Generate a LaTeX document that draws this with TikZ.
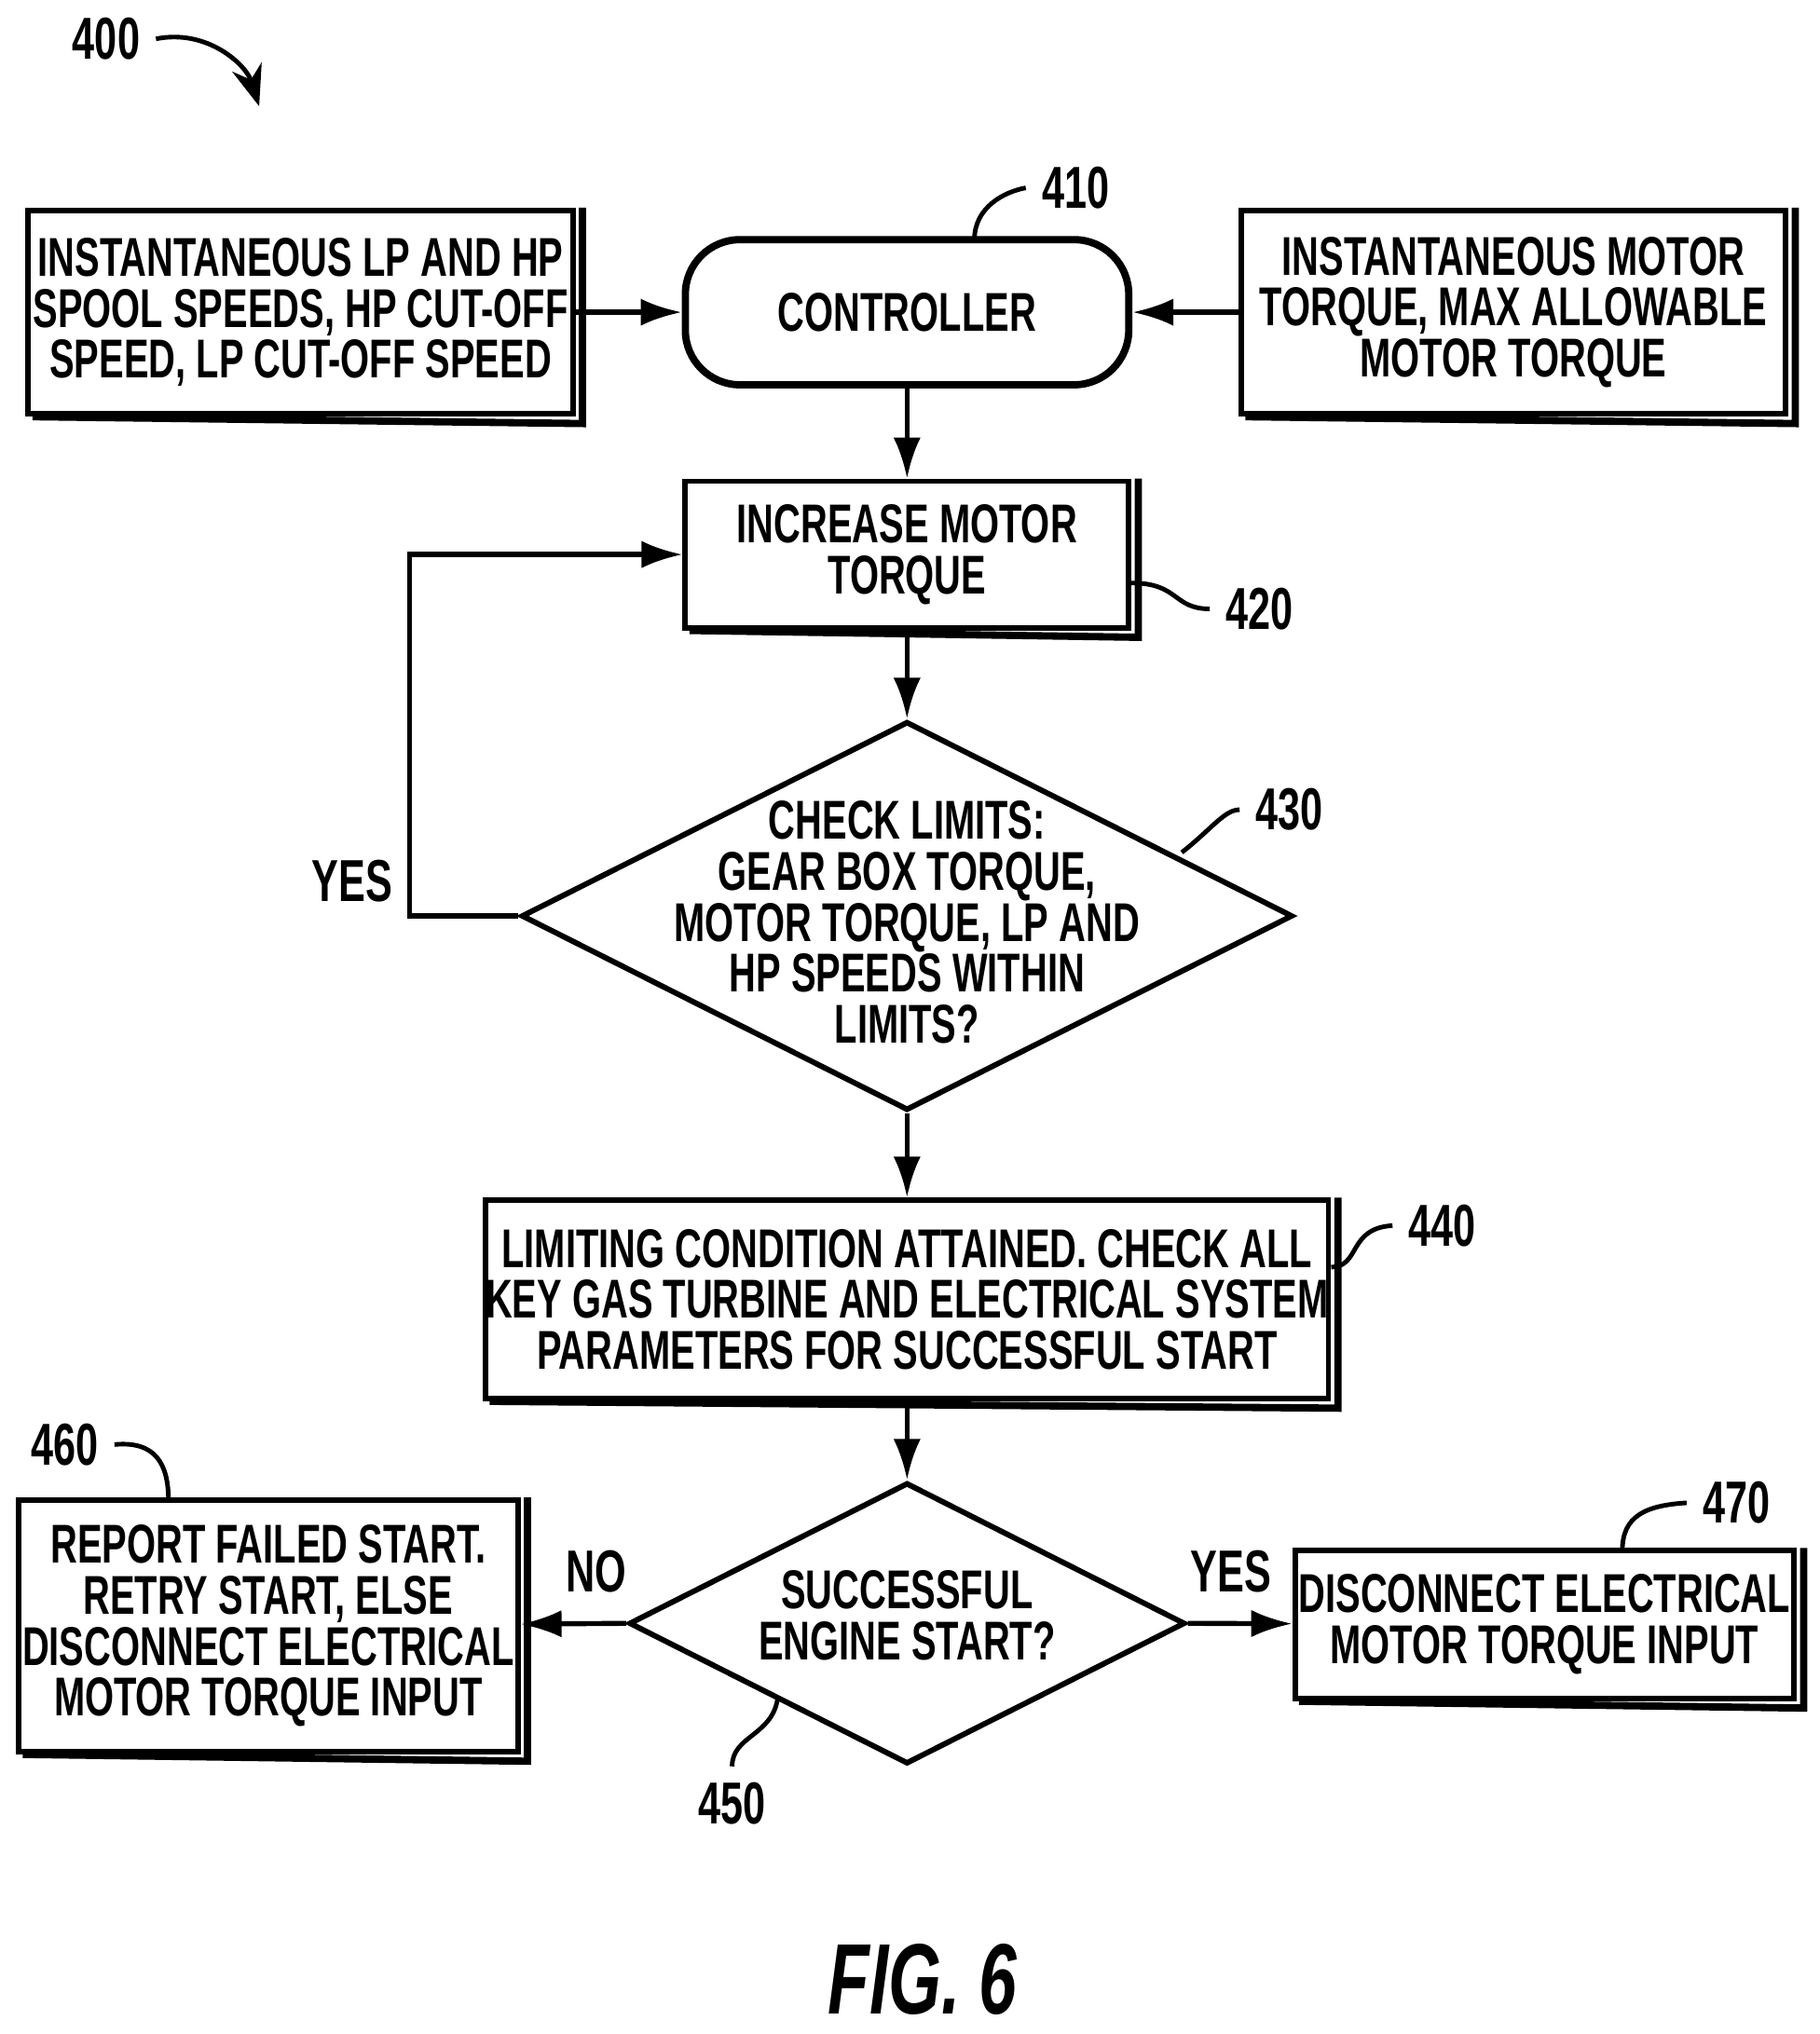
\documentclass[tikz,border=0pt]{standalone}
\usepackage{fontspec}
\setmainfont{Liberation Sans}[FakeStretch=0.68]
\usetikzlibrary{shapes.geometric,arrows.meta}
\begin{document}
\begin{tikzpicture}[x=0.01cm,y=-0.01cm,
  txt/.style={font=\fontsize{12}{11.2}\selectfont\bfseries,align=center},
  box/.style={txt,draw,line width=1.2pt,inner sep=0pt,
    append after command={\pgfextra{\draw[line width=1.6pt] ([xshift=1.5pt]\tikzlastnode.south west)--([xshift=1.5pt,yshift=-1.5pt]\tikzlastnode.south east)--([xshift=1.5pt]\tikzlastnode.north east);}}},
  dia/.style={draw,diamond,line width=1.2pt,inner sep=0pt},
  arr/.style={line width=1.1pt,-{Latex[length=9pt,width=6pt]}},
  lead/.style={line width=1pt},
  lab/.style={font=\fontsize{13}{13}\selectfont\bfseries}]
\useasboundingbox (0,0) rectangle (1404,1570);
\node[box,minimum width=4.2cm,minimum height=1.57cm] (in1) at (232,241) {INSTANTANEOUS LP AND HP\\SPOOL SPEEDS, HP CUT-OFF\\SPEED, LP CUT-OFF SPEED};
\node[txt,draw,line width=1.6pt,rounded corners=12pt,minimum width=3.42cm,minimum height=1.12cm] (ctl) at (700,241) {CONTROLLER};
\node[box,minimum width=4.2cm,minimum height=1.57cm] (in2) at (1168,241) {INSTANTANEOUS MOTOR\\TORQUE, MAX ALLOWABLE\\MOTOR TORQUE};
\node[box,minimum width=3.42cm,minimum height=1.13cm] (inc) at (700,428) {INCREASE MOTOR\\TORQUE};
\node[dia,minimum width=5.95cm,minimum height=3cm] (chk) at (700,707) {};
\node[txt] (chkt) at (700,712) {CHECK LIMITS:\\GEAR BOX TORQUE,\\MOTOR TORQUE, LP AND\\HP SPEEDS WITHIN\\LIMITS?};
\node[box,minimum width=6.2cm,minimum height=1.53cm] (lim) at (700,1003) {LIMITING CONDITION ATTAINED. CHECK ALL\\KEY GAS TURBINE AND ELECTRICAL SYSTEM\\PARAMETERS FOR SUCCESSFUL START};
\node[dia,minimum width=4.29cm,minimum height=2.17cm] (suc) at (700,1253) {};
\node[txt] (suct) at (700,1247) {SUCCESSFUL\\ENGINE START?};
\node[box,minimum width=3.85cm,minimum height=1.94cm] (fail) at (207,1255) {REPORT FAILED START.\\RETRY START, ELSE\\DISCONNECT ELECTRICAL\\MOTOR TORQUE INPUT};
\node[box,minimum width=3.85cm,minimum height=1.14cm] (disc) at (1192,1254) {DISCONNECT ELECTRICAL\\MOTOR TORQUE INPUT};

\draw[arr] (in1) -- (ctl);
\draw[arr] (in2) -- (ctl);
\draw[arr] (ctl) -- (inc);
\draw[arr] (inc) -- (chk.north);
\draw[arr] (chk.south) -- (lim);
\draw[arr] (lim) -- (suc.north);
\draw[arr] (suc.west) -- (fail);
\draw[arr] (suc.east) -- (disc);
\coordinate (lp) at (316,707);
\draw[arr] (chk.west) -- (lp) -- (lp |- inc.west) -- (inc.west);
\node[lab] (y1) at (272,680) {YES};
\node[lab] (no) at (460,1213) {NO};
\node[lab] (y2) at (950,1213) {YES};

\node[lab] (l400) at (82,30) {400};
\coordinate (a400) at (200,82);
\draw[lead,-{Stealth[length=9pt]}] (l400.east) .. controls (160,22) and (190,50) .. (a400);
\node[lab] (l410) at (830,145) {410};
\draw[lead] (752,185) .. controls (752,160) and (775,148) .. (l410.west);
\node[lab] (l420) at (972,470) {420};
\draw[lead] (inc.east |- 0,450) .. controls (910,450) and (905,470) .. (l420.west);
\node[lab] (l430) at (995,625) {430};
\draw[lead] (912,658) .. controls (935,640) and (945,625) .. (l430.west);
\node[lab] (l440) at (1113,946) {440};
\draw[lead] (lim.east |- 0,978) .. controls (1050,978) and (1040,948) .. (l440.west);
\node[lab] (l460) at (50,1115) {460};
\draw[lead] (l460.east) .. controls (120,1112) and (130,1130) .. (130,1158);
\node[lab] (l470) at (1340,1160) {470};
\draw[lead] (l470.west) .. controls (1270,1162) and (1252,1170) .. (1252,1197);
\node[lab] (l450) at (565,1392) {450};
\draw[lead] (l450.north) .. controls (565,1340) and (595,1340) .. (600,1312);
\node[font=\fontsize{22}{22}\selectfont\bfseries\itshape] (fig) at (712,1528) {FIG. 6};
\end{tikzpicture}
\end{document}
